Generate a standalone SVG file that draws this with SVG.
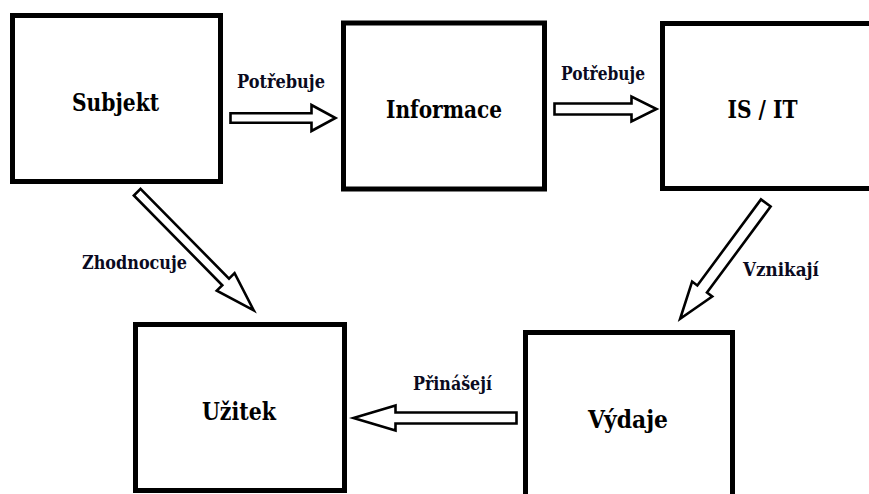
<svg xmlns="http://www.w3.org/2000/svg" width="869" height="494" viewBox="0 0 869 494">
  <style>
    .box { fill: #fff; stroke: #000; stroke-width: 5; }
    .arrow { fill: #fff; stroke: #000; stroke-width: 2.6; stroke-linejoin: miter; stroke-miterlimit: 10; }
    .nlabel { font-family: "DejaVu Serif", serif; font-weight: bold; font-size: 24px; fill: #000; text-anchor: middle; }
    .elabel { font-family: "DejaVu Serif", serif; font-weight: bold; font-size: 18px; fill: #0a0a20; text-anchor: middle; }
  </style>
  <rect width="869" height="494" fill="#fff"/>
  <g id="subjekt">
    <rect class="box" x="12.5" y="15.5" width="208" height="166"/>
    <text class="nlabel" x="115.5" y="111" textLength="87" lengthAdjust="spacingAndGlyphs">Subjekt</text>
  </g>
  <g id="informace">
    <rect class="box" x="343.5" y="23" width="201" height="166"/>
    <text class="nlabel" x="444" y="118" textLength="116" lengthAdjust="spacingAndGlyphs">Informace</text>
  </g>
  <g id="isit">
    <rect class="box" x="662.5" y="23.5" width="250" height="165"/>
    <text class="nlabel" x="762.5" y="118" textLength="70" lengthAdjust="spacingAndGlyphs">IS / IT</text>
  </g>
  <g id="uzitek">
    <rect class="box" x="135.5" y="324.5" width="209" height="166"/>
    <text class="nlabel" x="239" y="420" textLength="74" lengthAdjust="spacingAndGlyphs">Užitek</text>
  </g>
  <g id="vydaje">
    <rect class="box" x="525.5" y="332.5" width="207" height="200"/>
    <text class="nlabel" x="628" y="428" textLength="80" lengthAdjust="spacingAndGlyphs">Výdaje</text>
  </g>
  <g id="connectors">
    <polygon class="arrow" transform="translate(230.5,118)" points="0,-4.75 81,-4.75 81,-13 105,0 81,13 81,4.75 0,4.75"/>
    <text class="elabel" x="281" y="87.5" textLength="88" lengthAdjust="spacingAndGlyphs">Potřebuje</text>
    <polygon class="arrow" transform="translate(554.5,109)" points="0,-5.5 77,-5.5 77,-12.5 102,0 77,12.5 77,5.5 0,5.5"/>
    <text class="elabel" x="603" y="80" textLength="84" lengthAdjust="spacingAndGlyphs">Potřebuje</text>
    <polygon class="arrow" transform="translate(516.5,418) rotate(180)" points="0,-5.5 121,-5.5 121,-12.5 163,0 121,12.5 121,5.5 0,5.5"/>
    <text class="elabel" x="452.5" y="390" textLength="79" lengthAdjust="spacingAndGlyphs">Přinášejí</text>
    <polygon class="arrow" transform="translate(137.2,192.2) rotate(45.4)" points="0,-4.7 126,-4.7 126,-12.5 166,0 126,12.5 126,4.7 0,4.7"/>
    <text class="elabel" x="134.5" y="269" textLength="105" lengthAdjust="spacingAndGlyphs">Zhodnocuje</text>
    <polygon class="arrow" transform="translate(765.8,203) rotate(126.5)" points="0,-6 107,-6 107,-12.5 144,0 107,12.5 107,6 0,6"/>
    <text class="elabel" x="781" y="276" textLength="76" lengthAdjust="spacingAndGlyphs">Vznikají</text>
  </g>
</svg>
